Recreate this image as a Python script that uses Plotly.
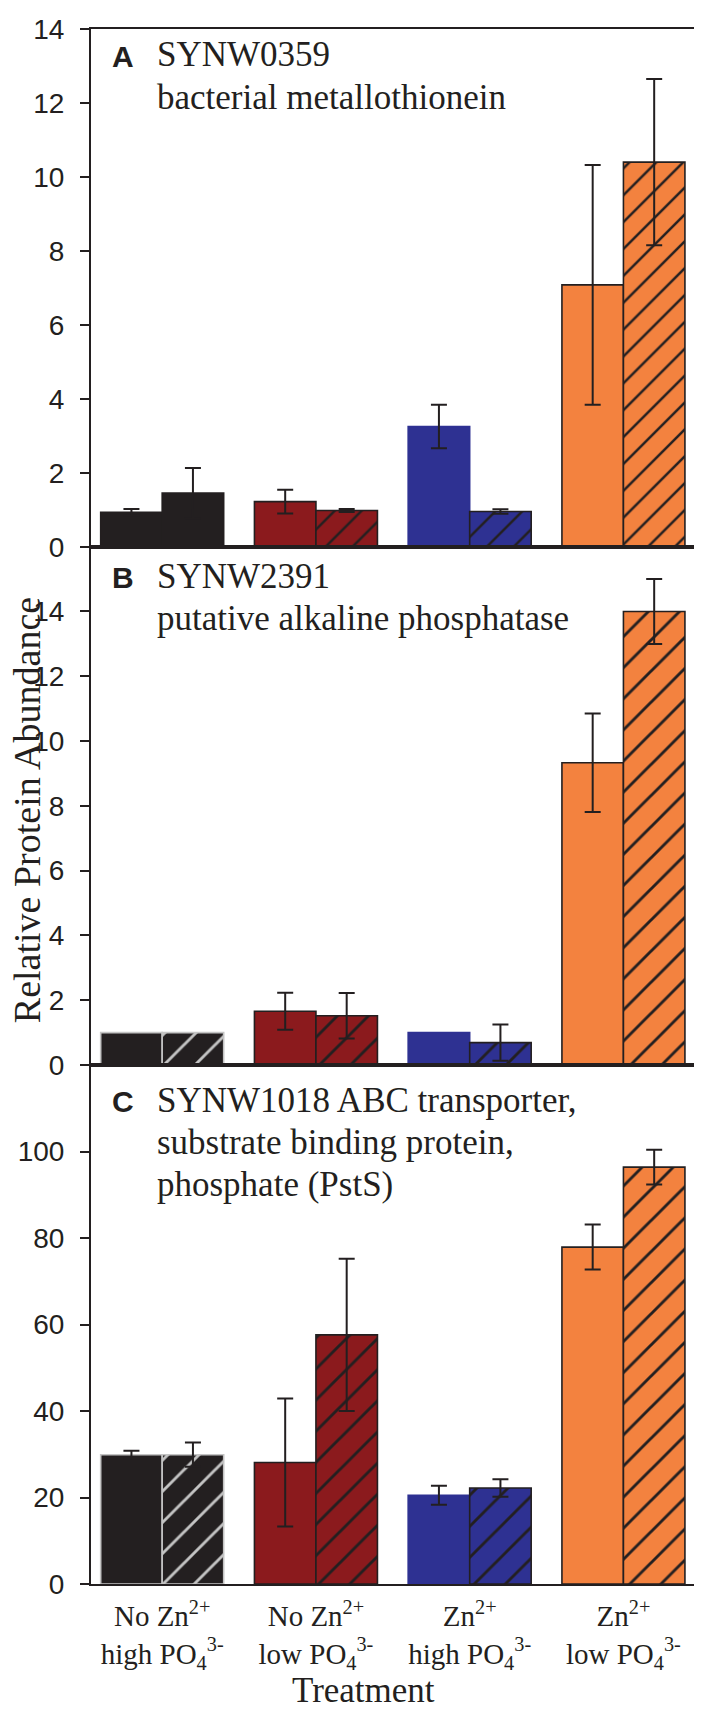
import numpy as np
import plotly.graph_objects as go
from plotly.subplots import make_subplots

# ---------------- data ----------------
treatments = [
    "No Zn<sup>2+</sup><br>high PO<sub>4</sub><sup>3-</sup>",
    "No Zn<sup>2+</sup><br>low PO<sub>4</sub><sup>3-</sup>",
    "Zn<sup>2+</sup><br>high PO<sub>4</sub><sup>3-</sup>",
    "Zn<sup>2+</sup><br>low PO<sub>4</sub><sup>3-</sup>",
]
x_pos = [0, 1, 2, 3]

# Panel A: SYNW0359
a_solid = [0.93, 1.22, 3.25, 7.08]
a_solid_err = [0.09, 0.32, 0.59, 3.24]
a_hatch = [1.45, 0.98, 0.95, 10.40]
a_hatch_err = [0.68, 0.04, 0.06, 2.25]

# Panel B: SYNW2391
b_solid = [1.00, 1.66, 1.00, 9.33]
b_solid_err = [np.nan, 0.57, np.nan, 1.52]
b_hatch = [1.00, 1.52, 0.69, 14.00]
b_hatch_err = [np.nan, 0.70, 0.56, 1.00]

# Panel C: SYNW1018
c_solid = [29.9, 28.1, 20.5, 77.9]
c_solid_err = [0.9, 14.8, 2.2, 5.2]
c_hatch = [29.9, 57.6, 22.2, 96.4]
c_hatch_err = [2.8, 17.6, 2.0, 4.0]

panel_letters = ["A", "B", "C"]
panel_lines = [
    ["SYNW0359", "bacterial metallothionein"],
    ["SYNW2391", "putative alkaline phosphatase"],
    ["SYNW1018 ABC transporter,", "substrate binding protein,", "phosphate (PstS)"],
]
y_ranges = [[0, 14], [0, 16], [0, 120]]
y_ticks = [list(range(0, 15, 2)), list(range(0, 15, 2)), list(range(0, 101, 20))]

# ---------------- style ----------------
BLACK = "#231f20"
RED = "#8b1a1d"
BLUE = "#2e3192"
ORANGE = "#f3823f"
GREY = "#c4c4c4"
fills = [BLACK, RED, BLUE, ORANGE]

W, H = 702, 1711
L, R, T, B = 83, 6, 9, 135


def xp(px):
    return (px - L) / (W - L - R)


def yp(py):
    return (H - B - py) / (H - T - B)


fig = make_subplots(rows=3, cols=1, shared_xaxes=True, vertical_spacing=0)

data = [
    (a_solid, a_solid_err, a_hatch, a_hatch_err),
    (b_solid, b_solid_err, b_hatch, b_hatch_err),
    (c_solid, c_solid_err, c_hatch, c_hatch_err),
]

for i, (s, se, h, he) in enumerate(data):
    row = i + 1
    blk_line = BLACK if i == 0 else GREY
    solid_lines = [blk_line, BLACK, BLUE, BLACK]
    hatch_lines = [blk_line, BLACK, BLACK, BLACK]
    hatch_fg = [BLACK if i == 0 else GREY, BLACK, BLACK, BLACK]
    psize = 19 if i == 0 else 22
    err_style = dict(type="data", visible=True, color=BLACK, thickness=2, width=8)
    fig.add_trace(
        go.Bar(
            x=x_pos, y=s, width=0.4, offset=-0.4,
            marker=dict(color=fills, line=dict(color=solid_lines, width=1.6)),
            error_y=dict(array=np.array(se, dtype=float), **err_style),
            showlegend=False,
        ),
        row=row, col=1,
    )
    for k in range(len(x_pos)):
        fig.add_trace(
            go.Bar(
                x=[x_pos[k]], y=[h[k]], width=0.4, offset=0.0,
                marker=dict(
                    color=fills[k],
                    line=dict(color=hatch_lines[k], width=1.6),
                    pattern=dict(shape="/", fillmode="overlay", fgcolor=hatch_fg[k],
                                 fgopacity=1, size=psize, solidity=0.13),
                ),
                error_y=dict(array=np.array([he[k]], dtype=float), **err_style),
                showlegend=False,
            ),
            row=row, col=1,
        )

domains = [[yp(530.7), 1.0], [yp(1053), yp(530.7)], [0.0, yp(1053)]]

for i in range(3):
    r = i + 1
    fig.update_xaxes(
        range=[-0.463, 3.511], showline=True, mirror=True, linecolor=BLACK,
        linewidth=2, ticks="", showgrid=False, zeroline=False,
        showticklabels=(r == 3), row=r, col=1,
    )
    fig.update_yaxes(
        range=y_ranges[i], tickvals=y_ticks[i], domain=domains[i],
        ticks="outside", ticklen=9, tickwidth=2, tickcolor=BLACK,
        showline=True, mirror=True, linecolor=BLACK, linewidth=2,
        showgrid=False, zeroline=False,
        tickfont=dict(family="Liberation Sans", size=28, color=BLACK),
        ticklabelstandoff=10, ticklabeloverflow="allow",
        row=r, col=1,
    )

fig.update_xaxes(
    tickvals=x_pos, ticktext=treatments,
    tickfont=dict(family="Liberation Serif", size=29, color=BLACK),
    ticklabelstandoff=5,
    row=3, col=1,
)

annotations = []
first_baselines = [48.2, 573.7, 1101.7]
line_gap = 42.5
for i in range(3):
    bl = first_baselines[i]
    annotations.append(dict(
        text="<b>%s</b>" % panel_letters[i], xref="paper", yref="paper",
        x=xp(102), y=yp(bl + 7), xanchor="left", yanchor="bottom",
        showarrow=False,
        font=dict(family="Liberation Sans", size=30, color=BLACK),
    ))
    for j, line in enumerate(panel_lines[i]):
        annotations.append(dict(
            text=line, xref="paper", yref="paper",
            x=xp(147), y=yp(bl + j * line_gap + 8.6), xanchor="left",
            yanchor="bottom", showarrow=False,
            font=dict(family="Liberation Serif", size=35, color=BLACK),
        ))

annotations.append(dict(
    text="Relative Protein Abundance", xref="paper", yref="paper",
    x=xp(19), y=yp(796), xanchor="center", yanchor="middle",
    textangle=-90, showarrow=False,
    font=dict(family="Liberation Serif", size=38, color=BLACK),
))
annotations.append(dict(
    text="Treatment", xref="paper", yref="paper",
    x=xp(356), y=yp(1705), xanchor="center", yanchor="bottom",
    showarrow=False,
    font=dict(family="Liberation Serif", size=35, color=BLACK),
))

fig.update_layout(
    width=W, height=H, margin=dict(l=L, r=R, t=T, b=B),
    paper_bgcolor="white", plot_bgcolor="white",
    barmode="overlay", annotations=annotations,
)

fig.write_html("out.html")
